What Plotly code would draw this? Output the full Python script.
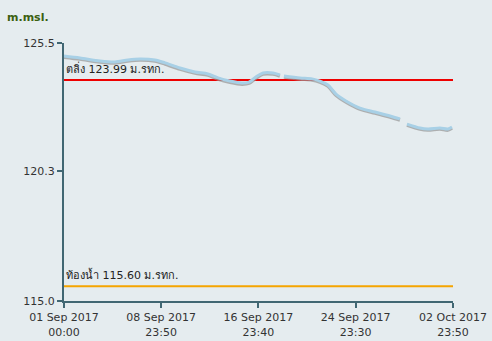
import plotly.graph_objects as go

times = ["2017-09-01 00:00", "2017-09-02 07:40", "2017-09-03 23:00", "2017-09-05 04:30",
         "2017-09-06 06:10", "2017-09-07 06:00", "2017-09-08 11:30", "2017-09-09 07:30",
         "2017-09-10 13:00", "2017-09-11 18:30", "2017-09-12 20:10", "2017-09-13 16:00",
         "2017-09-14 15:30", "2017-09-15 15:20", "2017-09-16 05:20", "2017-09-16 19:00",
         "2017-09-17 08:50", "2017-09-18 04:30", "2017-09-18 18:10", "2017-09-18 21:00",
         "2017-09-19 02:10", "2017-09-20 09:50", "2017-09-21 09:40", "2017-09-22 01:10",
         "2017-09-22 17:00", "2017-09-23 08:50", "2017-09-24 04:30", "2017-09-25 08:10",
         "2017-09-26 13:50", "2017-09-27 19:30", "2017-09-28 15:10", "2017-09-28 22:00",
         "2017-09-29 05:00", "2017-09-30 06:40", "2017-09-30 22:30", "2017-10-01 22:00",
         "2017-10-02 13:50", "2017-10-02 21:50"]
levels = [124.97, 124.89, 124.77, 124.73,
          124.81, 124.85, 124.81, 124.69,
          124.48, 124.32, 124.24, 124.08,
          123.95, 123.87, 123.91, 124.12,
          124.28, 124.28, 124.20, None,
          124.16, 124.08, 124.04, 123.95,
          123.79, 123.42, 123.14, 122.85,
          122.69, 122.53, 122.41, None,
          122.20, 122.04, 122.00, 122.04,
          122.00, 122.08]

bank_level = 123.99
bed_level = 115.60
bank_label = "ตลิ่ง 123.99 ม.รทก."
bed_label = "ท้องน้ำ 115.60 ม.รทก."
x_start = "2017-09-01 00:00"
x_end = "2017-10-02 23:50"
x_tickvals = ["2017-09-01 00:00", "2017-09-08 23:50", "2017-09-16 23:40",
              "2017-09-24 23:30", "2017-10-02 23:50"]
x_ticktext = ["01 Sep 2017<br>00:00", "08 Sep 2017<br>23:50", "16 Sep 2017<br>23:40",
              "24 Sep 2017<br>23:30", "02 Oct 2017<br>23:50"]
y_tickvals = [115.0, 120.3, 125.5]
y_ticktext = ["115.0", "120.3", "125.5"]

shadow_offset = 0.045
shadow_levels = [None if v is None else v - shadow_offset for v in levels]

fig = go.Figure()
fig.add_trace(go.Scatter(x=[x_start, x_end], y=[bank_level, bank_level], mode="lines",
                         line=dict(color="#ee0000", width=2), hoverinfo="skip"))
fig.add_trace(go.Scatter(x=[x_start, x_end], y=[bed_level, bed_level], mode="lines",
                         line=dict(color="#f5a500", width=2), hoverinfo="skip"))
fig.add_trace(go.Scatter(x=times, y=shadow_levels, mode="lines", connectgaps=False,
                         line=dict(color="rgba(150,150,150,0.7)", width=3.5, shape="spline", smoothing=0.8)))
fig.add_trace(go.Scatter(x=times, y=levels, mode="lines", connectgaps=False,
                         line=dict(color="#a8d0e6", width=3, shape="spline", smoothing=0.8)))

fig.add_annotation(x=x_start, y=bank_level, text=bank_label, showarrow=False,
                   xanchor="left", yanchor="bottom", xshift=0, yshift=2,
                   font=dict(family="DejaVu Sans, Noto Sans", size=11, color="#222"))
fig.add_annotation(x=x_start, y=bed_level, text=bed_label, showarrow=False,
                   xanchor="left", yanchor="bottom", xshift=0, yshift=2,
                   font=dict(family="DejaVu Sans, Noto Sans", size=11, color="#222"))
fig.add_annotation(xref="paper", yref="paper", x=-0.152, y=1.10, text="<b>m.msl.</b>",
                   showarrow=False, xanchor="left", yanchor="middle",
                   font=dict(family="DejaVu Sans", size=11, color="#3b6010"))

axis_col = "#416773"
fig.update_layout(
    width=492, height=341,
    margin=dict(l=64, r=39, t=43, b=40, autoexpand=False),
    paper_bgcolor="#e5ecef", plot_bgcolor="#e5ecef",
    showlegend=False,
    font=dict(family="DejaVu Sans", size=11, color="#333"),
    xaxis=dict(type="date", range=[x_start, x_end], tickmode="array",
               tickvals=x_tickvals, ticktext=x_ticktext, showgrid=False, zeroline=False,
               showline=True, linecolor=axis_col, linewidth=2, automargin=False,
               ticks="outside", ticklen=5, tickcolor=axis_col, tickwidth=2,
               tickfont=dict(size=11, color="#333")),
    yaxis=dict(range=[115.0, 125.5], tickmode="array", tickvals=y_tickvals,
               ticktext=y_ticktext, showgrid=False, zeroline=False,
               showline=True, linecolor=axis_col, linewidth=2, automargin=False,
               ticks="outside", ticklen=5, tickcolor=axis_col, tickwidth=2,
               tickfont=dict(size=11, color="#333")),
)

fig.write_html("out.html")
